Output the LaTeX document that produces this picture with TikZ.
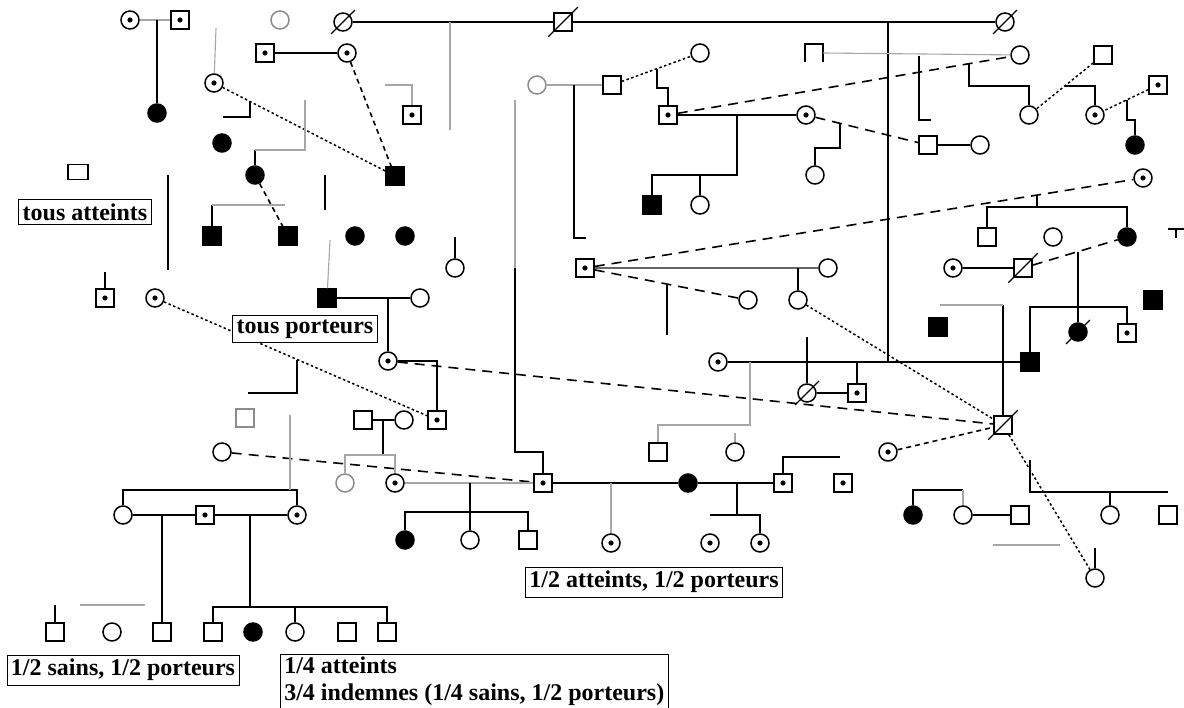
\documentclass[tikz,border=0pt]{standalone}
\usepackage{fontspec}
\setmainfont{Liberation Serif}
\begin{document}
\begin{tikzpicture}[x=1pt,y=-1pt,
  ind/.style={draw, line width=1.5pt, minimum size=18pt, inner sep=0pt, fill=white},
  sq/.style={ind, rectangle},
  ci/.style={ind, circle},
  aff/.style={fill=black},
  pale/.style={draw=black!45},
  ln/.style={line width=1.6pt},
  fa/.style={line width=1.1pt, black!35},
  gr/.style={line width=1.3pt, black!60},
  dsh/.style={line width=1.6pt, dash pattern=on 10pt off 7pt},
  mdsh/.style={line width=1.6pt, dash pattern=on 5pt off 4pt},
  dtt/.style={line width=1.5pt, dash pattern=on 2.5pt off 2.5pt},
  slash/.style={line width=1.4pt},
  lbl/.style={draw, line width=0.6pt, fill=white, font=\bfseries\fontsize{24}{27}\selectfont, inner xsep=4pt, inner ysep=4pt}
]
\useasboundingbox (0,0) rectangle (1184,708);
% ---------- individuals ----------
\node[ci] (a1) at (130,20) {};
\node[sq] (a2) at (180,20) {};
\node[ci,pale] (a3) at (280,20) {};
\node[ci] (a4) at (343,22) {};
\node[sq] (a5) at (563,22) {};
\node[ci] (a6) at (1005,22) {};
\node[sq] (b1) at (265,53) {};
\node[ci] (b2) at (347,53) {};
\node[sq,aff] (b3) at (395,176) {};
\node[sq] (b4) at (412,115) {};
\node[ci] (c1) at (214,83) {};
\node[ci,aff] (c0) at (157,113) {};
\node[ci,aff] (c2) at (222,143) {};
\node[ci,aff] (c3) at (255,175) {};
\node[sq,minimum width=20pt,minimum height=15pt] (e0) at (78,172) {};
\node[sq,aff] (d1) at (212,236) {};
\node[sq,aff] (d2) at (288,236) {};
\node[ci,aff] (d3) at (355,236) {};
\node[ci,aff] (d4) at (405,236) {};
\node[ci] (d5) at (455,268) {};
\node[sq] (f1) at (105,298) {};
\node[ci] (f2) at (155,298) {};
\node[sq,aff] (f3) at (327,298) {};
\node[ci] (f4) at (420,298) {};
\node[ci] (g1) at (388,361) {};
\node[sq,pale] (g0) at (245,418) {};
\node[sq] (g2) at (363,420) {};
\node[ci] (g3) at (404,420) {};
\node[sq] (g4) at (437,420) {};
\node[ci] (k0) at (222,452) {};
\node[ci,pale] (k1) at (345,483) {};
\node[ci] (k2) at (395,483) {};
\node[sq] (k3) at (543,483) {};
\node[ci,aff] (k4) at (688,483) {};
\node[sq] (k5) at (783,483) {};
\node[sq] (k6) at (843,483) {};
\node[ci,aff] (m1) at (405,540) {};
\node[ci] (m2) at (470,540) {};
\node[sq] (m3) at (528,540) {};
\node[ci] (m4) at (611,543) {};
\node[ci] (m5) at (710,543) {};
\node[ci] (m6) at (760,543) {};
\node[ci,pale] (n1) at (537,85) {};
\node[sq] (n2) at (612,85) {};
\node[ci] (n3) at (700,53) {};
\node[sq] (n4) at (668,115) {};
\node[ci] (n5) at (806,115) {};
\node[sq,aff] (n6) at (652,205) {};
\node[ci] (n7) at (700,205) {};
\node[sq] (n8) at (928,145) {};
\node[ci] (n9) at (980,145) {};
\node[ci] (n10) at (815,175) {};
\node[minimum size=18pt,inner sep=0pt] (p0) at (814,53) {};
\node[ci] (p1) at (1020,55) {};
\node[ci] (p2) at (1029,115) {};
\node[sq] (p3) at (1103,55) {};
\node[ci] (p4) at (1095,115) {};
\node[sq] (p5) at (1158,85) {};
\node[ci,aff] (p6) at (1135,145) {};
\node[ci] (q0) at (1143,178) {};
\node[sq] (q1) at (987,237) {};
\node[ci] (q2) at (1053,237) {};
\node[ci,aff] (q3) at (1127,237) {};
\node[sq] (r1) at (585,268) {};
\node[ci] (r2) at (828,268) {};
\node[ci] (r3) at (748,300) {};
\node[ci] (r4) at (798,300) {};
\node[ci] (s1) at (953,268) {};
\node[sq] (s2) at (1023,268) {};
\node[ci,aff] (s3) at (1078,332) {};
\node[sq,aff] (s4) at (1030,362) {};
\node[sq] (s5) at (1127,333) {};
\node[sq,aff] (s6) at (1153,300) {};
\node[sq,aff] (s7) at (938,327) {};
\node[ci] (t1) at (718,362) {};
\node[ci] (u1) at (807,393) {};
\node[sq] (u2) at (857,393) {};
\node[sq] (v1) at (658,452) {};
\node[ci] (v2) at (735,452) {};
\node[sq] (h) at (1003,425) {};
\node[ci] (w1) at (888,452) {};
\node[ci,aff] (x0) at (913,515) {};
\node[ci] (x1) at (963,515) {};
\node[sq] (x2) at (1020,515) {};
\node[ci] (x3) at (1110,515) {};
\node[sq] (x4) at (1168,515) {};
\node[ci] (x5) at (1095,578) {};
\node[ci] (y1) at (123,515) {};
\node[sq] (y2) at (205,515) {};
\node[ci] (y3) at (297,515) {};
\node[sq] (z1) at (55,632) {};
\node[ci] (z2) at (112,632) {};
\node[sq] (z3) at (162,632) {};
\node[sq] (z4) at (213,632) {};
\node[ci,aff] (z5) at (253,632) {};
\node[ci] (z6) at (295,632) {};
\node[sq] (z7) at (347,632) {};
\node[sq] (z8) at (387,632) {};
% carrier dots
\foreach \n in {a1,a2,b1,b2,b4,c1,f1,f2,g1,g4,k2,k3,k5,k6,m4,m5,m6,n4,n5,p4,p5,q0,r1,s1,s5,t1,u2,w1,y2,y3}
  \fill (\n.center) circle (2.6pt);
% deceased slashes
\foreach \n in {a4,a5,a6,s2,s3,u1,h}
  \draw[slash] ([shift={(-5pt,-5pt)}]\n.south west) -- ([shift={(5pt,5pt)}]\n.north east);
% ---------- connectors ----------
\draw[fa] (a1) -- (a2);
\coordinate (ja) at (157,20);
\draw[ln] (ja) -- (c0);
\draw[ln] (a4) -- (a5);
\draw[ln] (a5) -- (a6);
\coordinate (j1) at (450,22); \coordinate (j1b) at (450,130);
\draw[fa] (j1) -- (j1b);
\coordinate (j2) at (888,22); \coordinate (j2b) at (888,362);
\draw[ln] (j2) -- (j2b);
\draw[ln] (b1) -- (b2);
\draw[mdsh] (b2) -- (b3);
\draw[dtt] (c1) -- (b3);
\coordinate (c1t) at (216,28);
\draw[fa] (c1t) -- (c1);
\coordinate (l1a) at (223,117); \coordinate (l1b) at (250,117); \coordinate (l1c) at (250,101);
\draw[ln] (l1a) -- (l1b) -- (l1c);
\coordinate (c3a) at (255,150); \coordinate (c3b) at (305,150); \coordinate (c3c) at (305,100);
\draw[ln] (c3) -- (c3a);
\draw[fa] (c3a) -- (c3b) -- (c3c);
\coordinate (b4a) at (385,85); \coordinate (b4b) at (412,85);
\draw[fa] (b4a) -- (b4b) -- (b4);
\coordinate (v168a) at (168,175); \coordinate (v168b) at (168,270);
\draw[ln] (v168a) -- (v168b);
\coordinate (v325a) at (325,175); \coordinate (v325b) at (325,210);
\draw[ln] (v325a) -- (v325b);
\draw[mdsh] (c3) -- (d2);
\coordinate (d1a) at (212,205); \coordinate (d1b) at (285,205);
\draw[ln] (d1) -- (d1a);
\draw[fa] (d1a) -- (d1b);
\coordinate (d5a) at (455,237);
\draw[ln] (d5a) -- (d5);
\coordinate (f1a) at (105,272);
\draw[ln] (f1a) -- (f1);
\draw[ln] (f3) -- (f4);
\coordinate (f3a) at (330,240);
\draw[fa] (f3a) -- (f3);
\coordinate (g1a) at (388,298);
\draw[ln] (g1a) -- (g1);
\coordinate (g1b) at (437,361);
\draw[ln] (g1) -- (g1b) -- (g4);
\draw[dtt] (f2) -- (g4);
\coordinate (l2a) at (248,393); \coordinate (l2b) at (297,393); \coordinate (l2c) at (297,360);
\draw[ln] (l2a) -- (l2b) -- (l2c);
\draw[ln] (g2) -- (g3);
\coordinate (g2a) at (383,420); \coordinate (g2b) at (383,455);
\draw[ln] (g2a) -- (g2b);
\coordinate (k1a) at (345,455); \coordinate (k2a) at (395,455);
\draw[fa] (k1) -- (k1a) -- (k2a) -- (k2);
\draw[dsh] (k0) -- (k3);
\draw[fa] (k2) -- (k3);
\draw[ln] (k3) -- (k4) -- (k5);
\coordinate (m2a) at (470,483);
\draw[ln] (m2a) -- (m2);
\coordinate (m1a) at (405,512); \coordinate (m3a) at (528,512);
\draw[ln] (m1) -- (m1a) -- (m3a) -- (m3);
\coordinate (m4a) at (611,483);
\draw[fa] (m4a) -- (m4);
\coordinate (m6a) at (737,483); \coordinate (m6b) at (737,515);
\coordinate (m6c) at (710,515); \coordinate (m6d) at (760,515);
\draw[ln] (m6a) -- (m6b);
\draw[ln] (m6c) -- (m6d) -- (m6);
\coordinate (k5a) at (783,457); \coordinate (k5b) at (840,457);
\draw[ln] (k5) -- (k5a) -- (k5b);
\coordinate (v515a) at (515,100); \coordinate (v515b) at (515,268);
\coordinate (v515c) at (515,452); \coordinate (v515d) at (543,452);
\draw[fa] (v515a) -- (v515b);
\draw[ln] (v515b) -- (v515c) -- (v515d) -- (k3);
\draw[fa] (n1) -- (n2);
\coordinate (n1a) at (574,85); \coordinate (n1b) at (574,238); \coordinate (n1c) at (586,238);
\draw[ln] (n1a) -- (n1b) -- (n1c);
\draw[dtt] (n2) -- (n3);
\coordinate (n4a) at (657,69); \coordinate (n4b) at (657,88); \coordinate (n4c) at (668,88);
\draw[ln] (n4a) -- (n4b) -- (n4c) -- (n4);
\draw[ln] (n4) -- (n5);
\coordinate (n6a) at (737,115); \coordinate (n6b) at (737,175); \coordinate (n6c) at (652,175);
\coordinate (n7a) at (700,175);
\draw[ln] (n6a) -- (n6b) -- (n6c) -- (n6);
\draw[ln] (n7a) -- (n7);
\draw[dsh] (n5) -- (n8);
\coordinate (n10a) at (840,123); \coordinate (n10b) at (840,148); \coordinate (n10c) at (815,148);
\draw[ln] (n10a) -- (n10b) -- (n10c) -- (n10);
\draw[ln] (n8) -- (n9);
\draw[ln] (p0.south west) -- (p0.north west) -- (p0.north east) -- (p0.south east);
\draw[fa] (p0.east) -- (p1);
\draw[dsh] (n4) -- (p1);
\coordinate (p2a) at (969,64); \coordinate (p2b) at (969,86); \coordinate (p2c) at (1029,86);
\draw[ln] (p2a) -- (p2b) -- (p2c) -- (p2);
\coordinate (p1a) at (919,56); \coordinate (p1b) at (919,120); \coordinate (p1c) at (931,120);
\draw[ln] (p1a) -- (p1b) -- (p1c);
\draw[dtt] (p3) -- (p2);
\coordinate (p4a) at (1065,86); \coordinate (p4b) at (1095,86);
\draw[ln] (p4a) -- (p4b) -- (p4);
\draw[dtt] (p5) -- (p4);
\coordinate (p6a) at (1127,100); \coordinate (p6b) at (1127,120); \coordinate (p6c) at (1135,120);
\draw[ln] (p6a) -- (p6b) -- (p6c) -- (p6);
\draw[dsh] (r1) -- (q0);
\coordinate (q0a) at (1037,195); \coordinate (q0b) at (1037,207);
\coordinate (q1a) at (987,207); \coordinate (q3a) at (1127,207);
\draw[ln] (q0a) -- (q0b);
\draw[ln] (q1) -- (q1a) -- (q3a) -- (q3);
\coordinate (e1a) at (1168,229); \coordinate (e1b) at (1184,229);
\coordinate (e1c) at (1176,229); \coordinate (e1d) at (1176,238);
\draw[ln] (e1a) -- (e1b); \draw[ln] (e1c) -- (e1d);
\draw[gr] (r1) -- (r2);
\draw[dsh] (r1) -- (r3);
\coordinate (r3a) at (667,284); \coordinate (r3b) at (667,335);
\draw[ln] (r3a) -- (r3b);
\coordinate (r4a) at (798,268);
\draw[ln] (r4a) -- (r4);
\draw[dtt] (r4) -- (h);
\draw[ln] (s1) -- (s2);
\draw[dsh] (s2) -- (q3);
\coordinate (s3a) at (1078,252);
\draw[ln] (s3a) -- (s3);
\coordinate (s4a) at (1030,307); \coordinate (s5a) at (1127,307);
\draw[ln] (s4) -- (s4a) -- (s5a) -- (s5);
\draw[ln] (t1) -- (s4);
\coordinate (ha) at (1003,305); \coordinate (hb) at (940,305);
\draw[ln] (ha) -- (h);
\draw[fa] (hb) -- (ha);
\draw[ln] (u1) -- (u2);
\coordinate (u1a) at (807,337); \coordinate (u2a) at (857,362);
\draw[ln] (u1a) -- (u1);
\draw[ln] (u2a) -- (u2);
\coordinate (v1a) at (750,362); \coordinate (v1b) at (750,425); \coordinate (v1c) at (658,425);
\draw[fa] (v1a) -- (v1b) -- (v1c) -- (v1);
\coordinate (v2a) at (735,433);
\draw[fa] (v2a) -- (v2);
\draw[dsh] (g1) -- (h);
\draw[mdsh] (w1) -- (h);
\draw[dtt] (h) -- (x5);
\coordinate (x3a) at (1030,460); \coordinate (x3b) at (1030,492);
\coordinate (x3c) at (1168,492); \coordinate (x3d) at (1110,492);
\draw[ln] (x3a) -- (x3b) -- (x3c);
\draw[ln] (x3d) -- (x3);
\coordinate (x0a) at (913,490); \coordinate (x0b) at (963,490);
\draw[ln] (x0) -- (x0a) -- (x0b);
\draw[fa] (x0b) -- (x1);
\draw[ln] (x1) -- (x2);
\coordinate (x5a) at (1095,548);
\draw[ln] (x5a) -- (x5);
\coordinate (x6a) at (993,545); \coordinate (x6b) at (1060,545);
\draw[fa] (x6a) -- (x6b);
\draw[ln] (y1) -- (y2) -- (y3);
\coordinate (y1a) at (123,490); \coordinate (y3a) at (297,490);
\draw[ln] (y1) -- (y1a) -- (y3a) -- (y3);
\coordinate (y3b) at (290,415); \coordinate (y3c) at (290,490);
\draw[fa] (y3b) -- (y3c);
\coordinate (z3a) at (162,515);
\draw[ln] (z3a) -- (z3);
\coordinate (za) at (250,515); \coordinate (zb) at (250,607);
\draw[ln] (za) -- (zb);
\coordinate (z4a) at (213,607); \coordinate (z8a) at (387,607); \coordinate (z6a) at (295,607);
\draw[ln] (z4) -- (z4a) -- (z8a) -- (z8);
\draw[ln] (z6a) -- (z6);
\coordinate (z1a) at (55,605);
\draw[ln] (z1a) -- (z1);
\coordinate (zfa) at (80,605); \coordinate (zfb) at (145,605);
\draw[fa] (zfa) -- (zfb);
% ---------- captions ----------
\node[lbl] (T1) at (85,212) {tous atteints};
\node[lbl] (T2) at (305,329) {tous porteurs};
\node[lbl] (T3) at (654,582) {1/2 atteints, 1/2 porteurs};
\node[lbl] (T4) at (123,670) {1/2 sains, 1/2 porteurs};
\node[lbl, align=left, anchor=north west, inner ysep=3pt] (T5) at (280,654) {1/4 atteints\\3/4 indemnes (1/4 sains, 1/2 porteurs)};
\end{tikzpicture}
\end{document}
